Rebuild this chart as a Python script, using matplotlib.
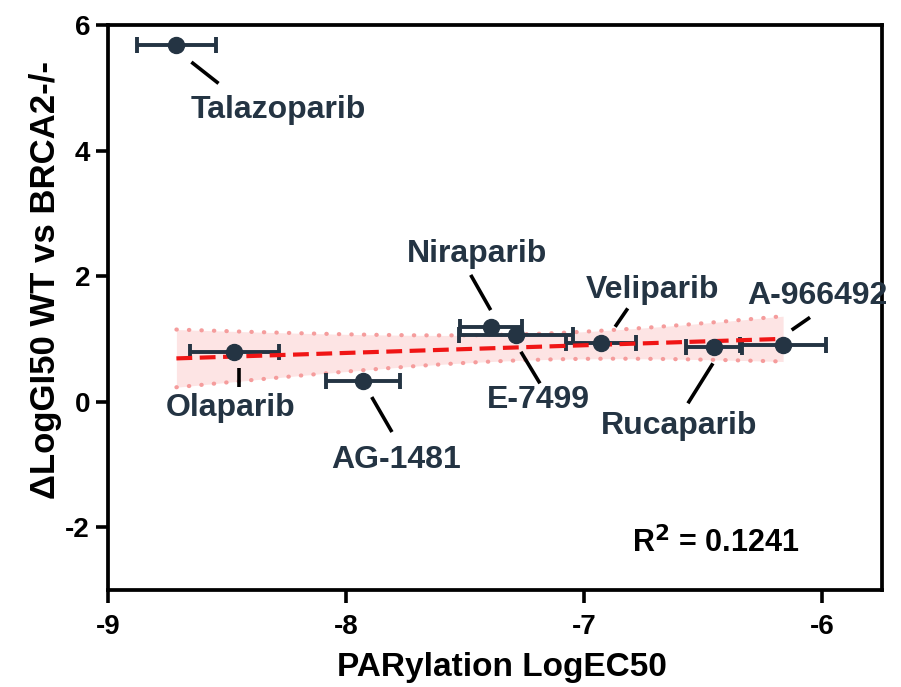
import numpy as np
import matplotlib
matplotlib.use('Agg')
import matplotlib.pyplot as plt

# Data
drugs = ['Talazoparib', 'Olaparib', 'AG-1481', 'Niraparib', 'E-7499',
         'Veliparib', 'Rucaparib', 'A-966492']
ec50 = np.array([-8.713, -8.469, -7.928, -7.391, -7.286, -6.928, -6.453, -6.163])
ec50_err = np.array([0.165, 0.186, 0.155, 0.132, 0.240, 0.147, 0.117, 0.180])
dgi50 = np.array([5.68, 0.79, 0.33, 1.19, 1.07, 0.94, 0.88, 0.90])
r2_text = 0.1241

# label placement (x, baseline y) and leader line ends, in data units
label_pos = {
    'Talazoparib': (-8.284, 4.518, (-8.650, 5.41), (-8.536, 5.07)),
    'Olaparib': (-8.484, -0.228, (-8.449, 0.537), (-8.449, 0.234)),
    'AG-1481': (-7.791, -1.056, (-7.892, 0.075), (-7.807, -0.482)),
    'Niraparib': (-7.451, 2.225, (-7.476, 2.02), (-7.392, 1.46)),
    'E-7499': (-7.192, -0.100, (-7.265, 0.796), (-7.185, 0.293)),
    'Veliparib': (-6.712, 1.651, (-6.869, 1.194), (-6.816, 1.487)),
    'Rucaparib': (-6.598, -0.514, (-6.563, -0.025), (-6.458, 0.611)),
    'A-966492': (-6.021, 1.556, (-6.127, 1.142), (-6.050, 1.344)),
}

navy = '#243443'
plt.rcParams['font.family'] = ['Liberation Sans', 'DejaVu Sans']
plt.rcParams['font.weight'] = 'bold'

fig = plt.figure(figsize=(9.01, 6.87), dpi=100)
ax = fig.add_axes([0.12, 0.141, 0.859, 0.8226])

# linear fit (Talazoparib left out) with confidence band
fit_mask = np.array([d != 'Talazoparib' for d in drugs])
xf, yf = ec50[fit_mask], dgi50[fit_mask]
slope, icpt = np.polyfit(xf, yf, 1)
n = len(xf)
resid = yf - (slope * xf + icpt)
s = np.sqrt(np.sum(resid ** 2) / (n - 2))
sxx = np.sum((xf - xf.mean()) ** 2)
xx = np.linspace(ec50.min(), ec50.max(), 200)
yy = slope * xx + icpt
half = 1.96 * s * np.sqrt(1 / n + (xx - xf.mean()) ** 2 / sxx)

ax.fill_between(xx, yy - half, yy + half, color='#fde4e4', lw=0, zorder=1)
for edge in (yy - half, yy + half):
    ax.plot(xx, edge, color='#f59c9c', lw=3.0, linestyle=(0, (0.1, 2.9)),
            dash_capstyle='round', zorder=1.5)

ax.errorbar(ec50, dgi50, xerr=ec50_err, fmt='none', ecolor=navy,
            elinewidth=2.8, capsize=6, capthick=2.8, zorder=2)
ax.plot(xx, yy, color='#f01515', lw=3.0, linestyle=(0, (3.8, 1.8)), zorder=3)
ax.plot(ec50, dgi50, 'o', color=navy, ms=11.5, zorder=4)

for d in drugs:
    tx, ty, p0, p1 = label_pos[d]
    ax.plot([p0[0], p1[0]], [p0[1], p1[1]], color='black', lw=2.6,
            solid_capstyle='butt', zorder=3)
    ax.text(tx, ty, d, ha='center', va='baseline', fontsize=23,
            fontweight='bold', color=navy)

ax.text(-6.80, -2.25, r'R$^{\mathbf{2}}$ = %.4f' % r2_text, ha='left', va='center',
        fontsize=22, fontweight='bold')

ax.set_xlim(-9.0, -5.747)
ax.set_ylim(-3.0, 6.0)
ax.set_xticks([-9, -8, -7, -6])
ax.set_yticks([-2, 0, 2, 4, 6])
ax.set_xticklabels(['-9', '-8', '-7', '-6'], fontsize=20, fontweight='bold')
ax.set_yticklabels(['-2', '0', '2', '4', '6'], fontsize=20, fontweight='bold')
ax.tick_params(axis='x', length=9, width=2.6, pad=8, top=False)
ax.tick_params(axis='y', length=9, width=2.6, pad=4, right=False)
for sp in ax.spines.values():
    sp.set_linewidth(2.7)

fig.text(0.557, 0.016, 'PARylation LogEC50', ha='center', va='baseline',
         fontsize=24, fontweight='bold')
fig.text(0.051, 0.592, '\u0394LogGI50 WT vs BRCA2-/-', ha='center', va='center',
         rotation=90, fontsize=25, fontweight='bold')

fig.savefig('out.png', dpi=100)
